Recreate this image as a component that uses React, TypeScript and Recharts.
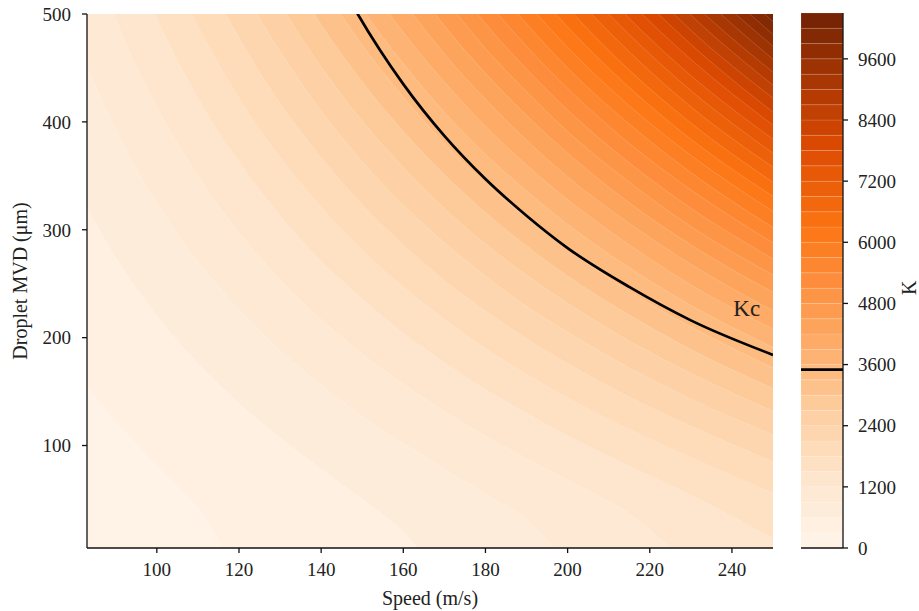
import React from "react";
import {
  Area,
  Bar,
  BarChart,
  CartesianGrid,
  ComposedChart,
  Line,
  ReferenceDot,
  ReferenceLine,
  XAxis,
  YAxis
} from "recharts";

// speeds at which each contour line was read (m/s)
const speeds = [83, 90, 100, 110, 120, 130, 140, 150, 160, 170, 180, 190, 200, 215, 230, 250];

// contour levels of K (band edges), top of the colour scale
const levels = [
  300, 600, 900, 1200, 1500, 1800, 2100, 2400, 2700, 3000, 3300, 3600, 3900, 4200, 4500, 4800, 5100,
  5400, 5700, 6000, 6300, 6600, 6900, 7200, 7500, 7800, 8100, 8400, 8700, 9000, 9300, 9600, 9900, 10200
];
const kMax = 10500;

// MVD (µm) of each contour line at the speeds above; values past the frame are clipped
const contourMvd = [
  [155, 122, 81, 42, -16, -47, -66, -79, -89, -96, -103, -108, -112, -117, -121, -126],
  [320, 274, 220, 176, 139, 107, 78, 50, 20, -25, -46, -60, -71, -84, -93, -102],
  [451, 392, 324, 270, 226, 188, 156, 127, 102, 78, 55, 31, -7, -41, -60, -77],
  [565, 495, 414, 350, 298, 254, 217, 185, 157, 132, 109, 88, 68, 37, -9, -45],
  [669, 588, 496, 422, 363, 313, 271, 236, 204, 177, 152, 130, 109, 81, 54, 14],
  [765, 675, 571, 489, 422, 367, 321, 281, 247, 217, 190, 166, 144, 115, 89, 56],
  [856, 756, 642, 551, 478, 417, 367, 323, 286, 253, 225, 199, 176, 145, 118, 85],
  [943, 834, 709, 610, 530, 465, 410, 363, 323, 288, 257, 229, 205, 172, 143, 110],
  [1026, 908, 773, 667, 581, 510, 451, 401, 358, 320, 287, 258, 232, 197, 167, 132],
  [1105, 979, 835, 721, 629, 554, 490, 437, 391, 351, 316, 285, 257, 221, 189, 153],
  [1182, 1048, 895, 773, 676, 595, 528, 471, 423, 380, 343, 311, 282, 243, 210, 172],
  [1257, 1115, 952, 824, 721, 636, 565, 505, 454, 409, 370, 336, 305, 265, 230, 191],
  [1330, 1180, 1008, 873, 765, 675, 601, 537, 483, 437, 396, 360, 328, 286, 249, 208],
  [1401, 1243, 1063, 921, 807, 713, 635, 569, 512, 463, 421, 383, 349, 306, 268, 225],
  [1470, 1305, 1117, 968, 849, 751, 669, 600, 541, 489, 445, 406, 371, 325, 286, 242],
  [1537, 1365, 1169, 1014, 889, 787, 702, 630, 568, 515, 468, 428, 391, 344, 303, 258],
  [1604, 1425, 1220, 1059, 929, 823, 734, 659, 595, 540, 491, 449, 411, 362, 320, 273],
  [1669, 1483, 1270, 1103, 968, 857, 766, 688, 621, 564, 514, 470, 431, 380, 337, 288],
  [1732, 1539, 1319, 1146, 1006, 892, 796, 716, 647, 588, 536, 491, 450, 398, 353, 302],
  [1795, 1595, 1367, 1188, 1044, 925, 827, 744, 673, 611, 558, 511, 469, 415, 369, 317],
  [1857, 1650, 1415, 1229, 1080, 958, 857, 771, 697, 634, 579, 531, 488, 432, 384, 331],
  [1917, 1704, 1461, 1270, 1117, 991, 886, 797, 722, 657, 600, 550, 506, 448, 399, 344],
  [1977, 1758, 1507, 1311, 1152, 1023, 915, 824, 746, 679, 620, 569, 524, 465, 414, 358],
  [2000, 1810, 1553, 1350, 1188, 1054, 943, 850, 770, 701, 641, 588, 541, 481, 429, 371],
  [2000, 1862, 1597, 1389, 1222, 1085, 971, 875, 793, 722, 660, 606, 559, 496, 443, 384],
  [2000, 1913, 1642, 1428, 1256, 1116, 999, 900, 816, 743, 680, 625, 576, 512, 458, 397],
  [2000, 1964, 1685, 1466, 1290, 1146, 1026, 925, 839, 764, 699, 643, 592, 527, 472, 409],
  [2000, 2000, 1728, 1504, 1324, 1176, 1053, 949, 861, 785, 719, 660, 609, 542, 485, 422],
  [2000, 2000, 1771, 1541, 1356, 1205, 1080, 974, 883, 805, 737, 678, 625, 557, 499, 434],
  [2000, 2000, 1813, 1578, 1389, 1234, 1106, 998, 905, 825, 756, 695, 641, 572, 512, 446],
  [2000, 2000, 1854, 1614, 1421, 1263, 1132, 1021, 927, 845, 774, 712, 657, 586, 526, 458],
  [2000, 2000, 1895, 1650, 1453, 1292, 1158, 1045, 948, 865, 793, 729, 673, 601, 539, 470],
  [2000, 2000, 1936, 1686, 1485, 1320, 1183, 1068, 969, 884, 811, 746, 689, 615, 552, 481],
  [2000, 2000, 1976, 1721, 1516, 1348, 1208, 1091, 990, 904, 828, 763, 704, 629, 565, 493]
];

// critical K line
const kc = 3500;
const kcSpeed = [140, 148.9, 160, 170, 180, 190, 200, 215, 230, 250];
const kcMvd = [563, 500, 435, 387, 347, 313, 283, 247, 216, 184];

const speedTicks = [100, 120, 140, 160, 180, 200, 220, 240];
const mvdTicks = [100, 200, 300, 400, 500];
const kTicks = [0, 1200, 2400, 3600, 4800, 6000, 7200, 8400, 9600];

// Oranges-like colour map
const cmapStops = [
  [0, "#fff5eb"],
  [0.125, "#fee6ce"],
  [0.25, "#fdd0a2"],
  [0.375, "#fdae6b"],
  [0.5, "#fd8d3c"],
  [0.6, "#fc7412"],
  [0.75, "#dc4a02"],
  [0.875, "#a83603"],
  [1, "#6f2203"]
] as const;

function rgb(c: string) {
  return [1, 3, 5].map((i) => parseInt(c.slice(i, i + 2), 16));
}
function cmap(t: number) {
  let i = 0;
  while (i < cmapStops.length - 2 && t > cmapStops[i + 1][0]) i++;
  const [t0, c0] = cmapStops[i];
  const [t1, c1] = cmapStops[i + 1];
  const f = Math.max(0, Math.min(1, (t - t0) / (t1 - t0)));
  const a = rgb(c0);
  const b = rgb(c1);
  const m = a.map((v, j) => Math.round(v + (b[j] - v) * f));
  return `rgb(${m[0]},${m[1]},${m[2]})`;
}

const edges = [0, ...levels, kMax];
const bandColor = (i: number) => cmap((edges[i] + edges[i + 1]) / 2 / kMax);

const table = speeds.map((speed, j) => {
  const row: Record<string, number> = { speed };
  contourMvd.forEach((line, i) => {
    row[`c${i}`] = line[j];
  });
  return row;
});
const kcData = kcSpeed.map((speed, i) => ({ speed, mvd: kcMvd[i] }));

const barRow: Record<string, number | string> = { name: "K" };
edges.slice(0, -1).forEach((lo, i) => {
  barRow[`b${i}`] = edges[i + 1] - lo;
});

const font = "'Liberation Serif', 'Times New Roman', serif";
const tickStyle = { fontFamily: font, fontSize: 19, fill: "#222" };
const axisLine = { stroke: "#111", strokeWidth: 1.3 };

export default function App() {
  return (
    <div style={{ position: "absolute", left: 0, top: 0, width: 919, height: 611, background: "#fff" }}>
      <div style={{ position: "absolute", left: 0, top: 0 }}>
        <ComposedChart width={919} height={611} data={table} margin={{ top: 14, right: 146, bottom: 0, left: 0 }}>
          <CartesianGrid horizontal={false} vertical={false} fill={bandColor(0)} fillOpacity={1} />
          {levels.map((L, i) => (
            <Area
              key={L}
              type="monotone"
              dataKey={`c${i}`}
              baseValue={500}
              fill={bandColor(i + 1)}
              fillOpacity={1}
              stroke="#ffffff"
              strokeOpacity={0.22}
              strokeWidth={0.7}
              dot={false}
              activeDot={false}
              isAnimationActive={false}
            />
          ))}
          <Line
            data={kcData}
            dataKey="mvd"
            type="monotone"
            stroke="#000"
            strokeWidth={2.7}
            dot={false}
            activeDot={false}
            isAnimationActive={false}
          />
          <ReferenceDot
            x={243.6}
            y={227.8}
            r={0}
            fill="none"
            stroke="none"
            label={{ value: "Kc", position: "center", fontFamily: font, fontSize: 23, fill: "#222" }}
          />
          <XAxis
            dataKey="speed"
            type="number"
            domain={[83, 250]}
            allowDataOverflow
            ticks={speedTicks}
            height={63}
            tick={tickStyle}
            tickSize={5}
            tickMargin={10}
            tickLine={axisLine}
            axisLine={axisLine}
            label={{ value: "Speed (m/s)", position: "insideBottom", offset: 6, fontFamily: font, fontSize: 20, fill: "#222" }}
          />
          <YAxis
            type="number"
            domain={[5, 500]}
            allowDataOverflow
            ticks={mvdTicks}
            width={87}
            tick={tickStyle}
            tickSize={5}
            tickMargin={11}
            tickLine={axisLine}
            axisLine={axisLine}
            label={{
              value: "Droplet MVD (μm)",
              angle: -90,
              position: "insideLeft",
              offset: 20,
              fontFamily: font,
              fontSize: 20,
              fill: "#222",
              style: { textAnchor: "middle" }
            }}
          />
          <XAxis xAxisId="top" orientation="top" type="number" domain={[83, 250]} height={0} tick={false} tickLine={false} axisLine={axisLine} />
          <YAxis yAxisId="right" orientation="right" type="number" domain={[5, 500]} width={0} tick={false} tickLine={false} axisLine={axisLine} />
        </ComposedChart>
      </div>
      <div style={{ position: "absolute", left: 790, top: 0 }}>
        <BarChart width={129} height={611} data={[barRow]} margin={{ top: 13, right: 0, bottom: 0, left: 11 }} barCategoryGap={0}>
          {edges.slice(0, -1).map((lo, i) => (
            <Bar
              key={lo}
              dataKey={`b${i}`}
              stackId="k"
              fill={bandColor(i)}
              stroke="#ffffff"
              strokeOpacity={0.2}
              strokeWidth={0.6}
              isAnimationActive={false}
            />
          ))}
          <ReferenceLine y={kc} stroke="#000" strokeWidth={2.6} />
          <XAxis dataKey="name" height={63} tick={false} tickLine={false} axisLine={axisLine} />
          <XAxis xAxisId="top" dataKey="name" orientation="top" height={0} tick={false} tickLine={false} axisLine={axisLine} />
          <YAxis yAxisId="left" orientation="left" width={0} tick={false} tickLine={false} axisLine={axisLine} />
          <YAxis
            orientation="right"
            type="number"
            domain={[0, kMax]}
            ticks={kTicks}
            width={76}
            tick={tickStyle}
            tickSize={5}
            tickMargin={10}
            tickLine={axisLine}
            axisLine={axisLine}
            label={{ value: "K", angle: -90, position: "insideRight", offset: 10, fontFamily: font, fontSize: 20, fill: "#222" }}
          />
        </BarChart>
      </div>
    </div>
  );
}
